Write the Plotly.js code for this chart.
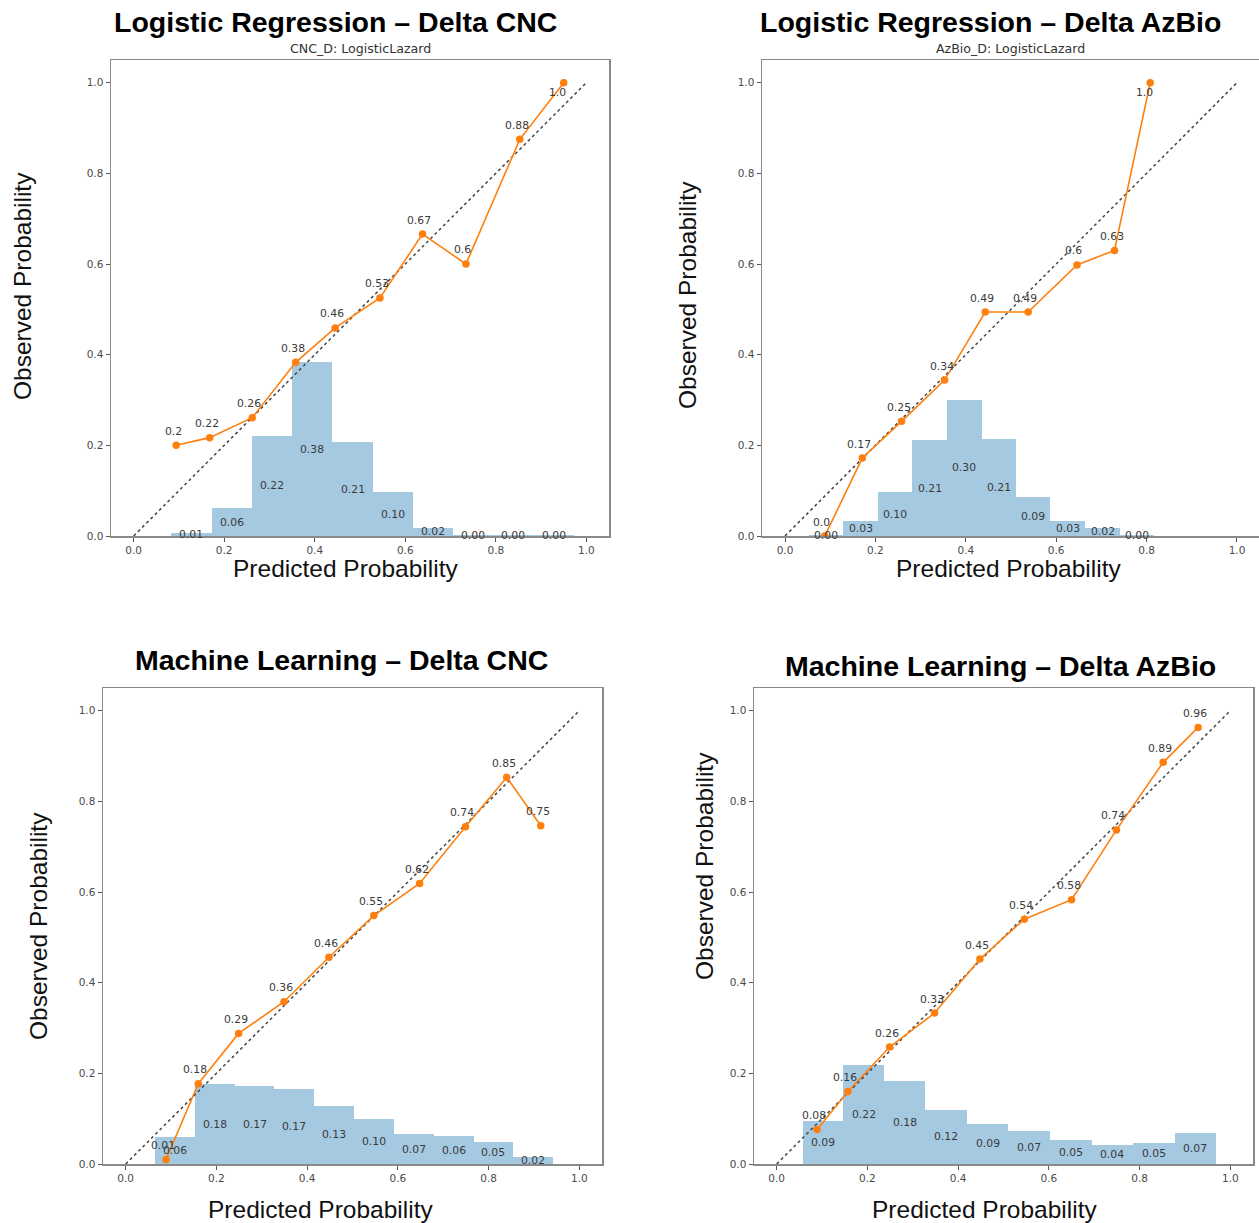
<!DOCTYPE html>
<html>
<head>
<meta charset="utf-8">
<script src="https://cdn.plot.ly/plotly-3.0.1.min.js"></script>
<style>
html,body{margin:0;padding:0;background:#fff;}
#chart{width:1259px;height:1223px;}
</style>
</head>
<body>
<div id="chart"></div>
<script>
// ---------------- DATA ----------------
const panelTitles = [
  "Logistic Regression \u2013 Delta CNC",
  "Logistic Regression \u2013 Delta AzBio",
  "Machine Learning \u2013 Delta CNC",
  "Machine Learning \u2013 Delta AzBio"
];
const panelSubtitles = ["CNC_D: LogisticLazard", "AzBio_D: LogisticLazard", "", ""];
const xAxisLabel = "Predicted Probability";
const yAxisLabel = "Observed Probability";
const tickValues = [0.0, 0.2, 0.4, 0.6, 0.8, 1.0];

// Logistic Regression - Delta CNC
const lrCncBinEdges = [0.083, 0.172, 0.261, 0.350, 0.439, 0.528, 0.616, 0.705, 0.794, 0.883, 0.972];
const lrCncBinFrac  = [0.006, 0.061, 0.221, 0.383, 0.207, 0.096, 0.018, 0.002, 0.002, 0.002];
const lrCncPredX    = [0.094, 0.168, 0.262, 0.358, 0.445, 0.544, 0.638, 0.734, 0.853, 0.950];
const lrCncObsY     = [0.200, 0.217, 0.261, 0.383, 0.459, 0.525, 0.666, 0.600, 0.875, 1.000];

// Logistic Regression - Delta AzBio
const lrAzBinEdges = [0.052, 0.129, 0.206, 0.282, 0.359, 0.435, 0.511, 0.587, 0.664, 0.741, 0.817];
const lrAzBinFrac  = [0.003, 0.033, 0.096, 0.211, 0.300, 0.215, 0.087, 0.033, 0.018, 0.002];
const lrAzPredX    = [0.088, 0.171, 0.258, 0.353, 0.443, 0.538, 0.646, 0.729, 0.808];
const lrAzObsY     = [0.000, 0.172, 0.253, 0.344, 0.494, 0.494, 0.598, 0.630, 1.000];

// Machine Learning - Delta CNC
const mlCncBinEdges = [0.065, 0.153, 0.240, 0.328, 0.416, 0.503, 0.591, 0.679, 0.767, 0.854, 0.942];
const mlCncBinFrac  = [0.060, 0.176, 0.173, 0.166, 0.128, 0.099, 0.066, 0.061, 0.049, 0.016];
const mlCncPredX    = [0.089, 0.160, 0.249, 0.349, 0.448, 0.547, 0.648, 0.749, 0.840, 0.915];
const mlCncObsY     = [0.010, 0.177, 0.288, 0.358, 0.456, 0.548, 0.619, 0.744, 0.853, 0.746];

// Machine Learning - Delta AzBio
const mlAzBinEdges = [0.057, 0.147, 0.237, 0.328, 0.420, 0.511, 0.603, 0.694, 0.785, 0.877, 0.968];
const mlAzBinFrac  = [0.094, 0.219, 0.183, 0.120, 0.089, 0.072, 0.052, 0.043, 0.047, 0.069];
const mlAzPredX    = [0.089, 0.157, 0.249, 0.348, 0.448, 0.546, 0.650, 0.749, 0.852, 0.929];
const mlAzObsY     = [0.076, 0.160, 0.258, 0.333, 0.452, 0.540, 0.583, 0.737, 0.886, 0.963];

// ---------------- LAYOUT GEOMETRY (pixels) ----------------
const W = 1259, H = 1223;
const panels = [
  {edges: lrCncBinEdges, frac: lrCncBinFrac, px: lrCncPredX, py: lrCncObsY,
   box: [111, 609, 60, 536], xr: [-0.05, 1.05],
   title: [335.5, 22], sub: [360, 48], xlab: [345, 568], ylab: [22, 286]},
  {edges: lrAzBinEdges, frac: lrAzBinFrac, px: lrAzPredX, py: lrAzObsY,
   box: [762, 1259, 60, 536], xr: [-0.0509, 1.0487],
   title: [990, 22], sub: [1011, 48], xlab: [1008, 568], ylab: [687, 295]},
  {edges: mlCncBinEdges, frac: mlCncBinFrac, px: mlCncPredX, py: mlCncObsY,
   box: [103, 602, 688, 1164], xr: [-0.05, 1.05],
   title: [342, 660], sub: null, xlab: [320, 1209], ylab: [38, 926]},
  {edges: mlAzBinEdges, frac: mlAzBinFrac, px: mlAzPredX, py: mlAzObsY,
   box: [754, 1253, 688, 1164], xr: [-0.05, 1.05],
   title: [1000, 666], sub: null, xlab: [984, 1209], ylab: [704, 866]}
];

function pyRound(v) {
  const r = Math.round(v * 100) / 100;
  let s = String(r);
  if (s.indexOf('.') < 0) s += '.0';
  return s;
}

const smallFont = {family: 'DejaVu Sans, sans-serif', size: 10.8, color: '#3a3a3a'};
const traces = [];
const annotations = [];
const layout = {
  width: W, height: H,
  margin: {l: 0, r: 0, t: 0, b: 0},
  paper_bgcolor: '#ffffff', plot_bgcolor: '#ffffff',
  showlegend: false,
  bargap: 0
};

panels.forEach((p, i) => {
  const n = i + 1;
  const xn = n === 1 ? 'x' : 'x' + n;
  const yn = n === 1 ? 'y' : 'y' + n;
  const xk = n === 1 ? 'xaxis' : 'xaxis' + n;
  const yk = n === 1 ? 'yaxis' : 'yaxis' + n;
  const [x0, x1, y0, y1] = p.box;

  const axisCommon = {
    showgrid: false, zeroline: false, showline: true, mirror: true,
    linecolor: '#8a8a8a', linewidth: 1.5,
    ticks: 'outside', ticklen: 4, tickwidth: 1, tickcolor: '#555',
    tickvals: tickValues, tickformat: '.1f',
    tickfont: {family: 'DejaVu Sans, sans-serif', size: 10.5, color: '#4a4a4a'},
    fixedrange: true, automargin: false
  };
  layout[xk] = Object.assign({}, axisCommon, {
    domain: [x0 / W, Math.min(1, x1 / W)], range: p.xr, anchor: yn
  });
  layout[yk] = Object.assign({}, axisCommon, {
    domain: [1 - y1 / H, 1 - y0 / H], range: [0, 1.05], anchor: xn
  });

  // histogram bars
  const mids = [], widths = [];
  for (let k = 0; k < p.frac.length; k++) {
    mids.push((p.edges[k] + p.edges[k + 1]) / 2);
    widths.push(p.edges[k + 1] - p.edges[k]);
  }
  traces.push({
    type: 'bar', x: mids, y: p.frac, width: widths,
    xaxis: xn, yaxis: yn,
    marker: {color: 'rgba(31,119,180,0.4)', line: {width: 0}},
    hoverinfo: 'skip'
  });
  // diagonal reference
  traces.push({
    type: 'scatter', mode: 'lines', x: [0, 1], y: [0, 1],
    xaxis: xn, yaxis: yn,
    line: {color: '#444', width: 1.5, dash: 'dot'}, hoverinfo: 'skip'
  });
  // calibration curve
  traces.push({
    type: 'scatter', mode: 'lines+markers', x: p.px, y: p.py,
    xaxis: xn, yaxis: yn,
    line: {color: '#ff7f0e', width: 1.6},
    marker: {color: '#ff7f0e', size: 7.5}
  });

  // bar labels
  for (let k = 0; k < p.frac.length; k++) {
    annotations.push({
      xref: xn, yref: yn, x: mids[k], y: p.frac[k] / 2,
      text: p.frac[k].toFixed(2), showarrow: false,
      xanchor: 'center', yanchor: 'middle', font: smallFont
    });
  }
  // point labels
  for (let k = 0; k < p.px.length; k++) {
    const top = p.py[k] >= 0.995;
    annotations.push({
      xref: xn, yref: yn, x: p.px[k], y: p.py[k],
      text: pyRound(p.py[k]), showarrow: false,
      xanchor: 'center', yanchor: 'middle',
      xshift: top ? -6 : -3, yshift: top ? -10 : 14,
      font: smallFont
    });
  }

  // panel title
  annotations.push({
    xref: 'paper', yref: 'paper', x: p.title[0] / W, y: 1 - p.title[1] / H,
    text: panelTitles[i], showarrow: false, xanchor: 'center', yanchor: 'middle',
    font: {family: 'Liberation Sans, Arial, sans-serif', size: 28.5, color: '#000', weight: 'bold'}
  });
  if (p.sub) {
    annotations.push({
      xref: 'paper', yref: 'paper', x: p.sub[0] / W, y: 1 - p.sub[1] / H,
      text: panelSubtitles[i], showarrow: false, xanchor: 'center', yanchor: 'middle',
      font: {family: 'DejaVu Sans, sans-serif', size: 12.6, color: '#333'}
    });
  }
  // axis labels
  annotations.push({
    xref: 'paper', yref: 'paper', x: p.xlab[0] / W, y: 1 - p.xlab[1] / H,
    text: xAxisLabel, showarrow: false, xanchor: 'center', yanchor: 'middle',
    font: {family: 'Liberation Sans, Arial, sans-serif', size: 24.5, color: '#111'}
  });
  annotations.push({
    xref: 'paper', yref: 'paper', x: p.ylab[0] / W, y: 1 - p.ylab[1] / H,
    text: yAxisLabel, showarrow: false, xanchor: 'center', yanchor: 'middle',
    textangle: -90,
    font: {family: 'Liberation Sans, Arial, sans-serif', size: 24.5, color: '#111'}
  });
});

layout.annotations = annotations;
Plotly.newPlot('chart', traces, layout, {staticPlot: true, displayModeBar: false});
</script>
</body>
</html>
